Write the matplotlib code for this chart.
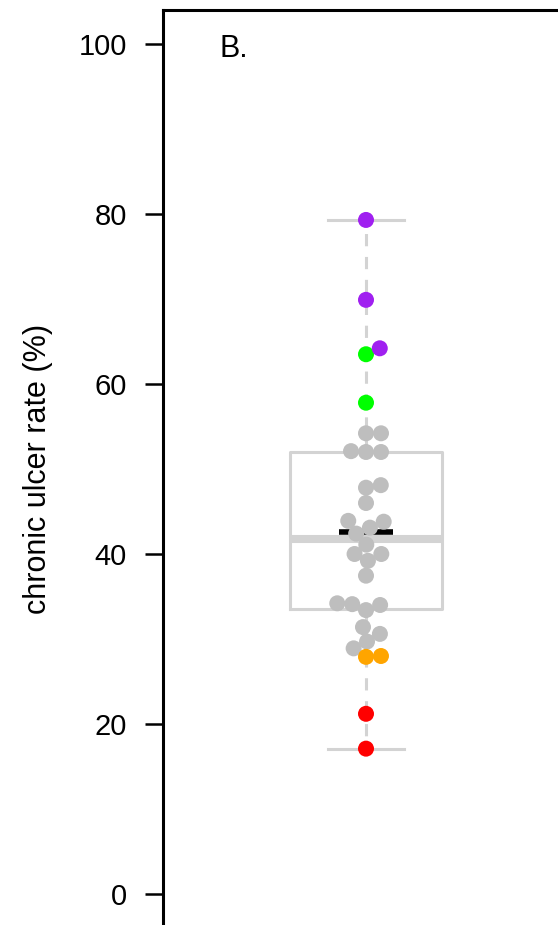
import numpy as np
import matplotlib
matplotlib.use("Agg")
import matplotlib.pyplot as plt

# ---- data ----
gray_vals = [54.2, 54.2, 52.1, 52.0, 52.0, 47.8, 48.1, 46.0, 43.9, 43.8, 43.1,
             42.4, 41.1, 40.0, 40.0, 39.2, 37.45, 34.2, 34.1, 33.4, 34.0, 31.4,
             30.6, 29.7, 28.9]
orange_vals = [27.9, 28.0]
red_vals = [21.2, 17.1]
green_vals = [63.5, 57.8]
purple_vals = [79.3, 69.9, 64.2]
mean_line = 42.6
yticks = [0, 20, 40, 60, 80, 100]
ylabel = "chronic ulcer rate (%)"
panel_label = "B."

groups = [(gray_vals, "#BEBEBE"), (orange_vals, "#FFA500"), (red_vals, "#FF0000"),
          (green_vals, "#00FF00"), (purple_vals, "#A020F0")]

W, H = 558, 925
fig = plt.figure(figsize=(W / 100, H / 100), dpi=100)
plt.rcParams['font.family'] = ['Liberation Sans', 'DejaVu Sans']

px_per_unit_x = 189.0
left_px, right_px = 163, 620
top_px, bot_px = 10, 928
ax = fig.add_axes([left_px / W, 1 - bot_px / H, (right_px - left_px) / W, (bot_px - top_px) / H])
center = 1.0
x0 = center - (366 - left_px) / px_per_unit_x
ax.set_xlim(x0, x0 + (right_px - left_px) / px_per_unit_x)
ax.set_ylim(-4, 104)
px_per_unit_y = (bot_px - top_px) / 108.0

# ---- box stats ----
allv = np.array([v for g, _ in groups for v in g])
q1, med, q3 = np.percentile(allv, [25, 50, 75])
stats = [dict(med=med, q1=q1, q3=q3, whislo=allv.min(), whishi=allv.max(), fliers=[])]
lc = "#D3D3D3"
ax.bxp(stats, positions=[center], widths=0.8, showfliers=False,
       boxprops=dict(color=lc, linewidth=2.2),
       whiskerprops=dict(color=lc, linewidth=2.2, linestyle=(0, (4, 3.5))),
       capprops=dict(color=lc, linewidth=2.2),
       medianprops=dict(color=lc, linewidth=5.8, solid_capstyle='butt'),
       capwidths=0.4, zorder=1)
ax.plot([center - 0.145, center + 0.145], [mean_line, mean_line], color="black",
        linewidth=4.0, solid_capstyle='butt', zorder=2)

# ---- beeswarm (swarm, ascending priority) ----
spacing_px = 15.0
items = []
for gi, (vals, col) in enumerate(groups):
    for v in vals:
        items.append((v, gi))
order = sorted(range(len(items)), key=lambda i: items[i][0])
ys = np.array([items[i][0] for i in range(len(items))]) * px_per_unit_y / spacing_px
offs = np.zeros(len(items))
placed = []
for k, i in enumerate(order):
    yi = ys[i]
    if placed:
        pre = [j for j in placed if yi - ys[j] < 1]
        if pre:
            pre.sort(key=lambda j: abs(offs[j]))
            cands = [0.0]
            pos = [offs[j] + np.sqrt(1 - (yi - ys[j]) ** 2) for j in pre]
            neg = [offs[j] - np.sqrt(1 - (yi - ys[j]) ** 2) for j in pre]
            cands += pos + neg
            best = None
            for c in cands:
                bad = any(((yi - ys[j]) ** 2 + (c - offs[j]) ** 2) < 0.999 for j in pre)
                if not bad and (best is None or abs(c) < abs(best)):
                    best = c
            offs[i] = best
    placed.append(i)

xs = center + offs * spacing_px / px_per_unit_x
msize = (16 * 0.72) ** 2
for gi, (vals, col) in enumerate(groups):
    idx = [i for i in range(len(items)) if items[i][1] == gi]
    ax.scatter(xs[idx], [items[i][0] for i in idx], s=msize, color=col,
               edgecolors='none', zorder=3 + gi)

# ---- axes styling ----
for s in ["right", "bottom"]:
    ax.spines[s].set_visible(False)
for s in ["left", "top"]:
    ax.spines[s].set_linewidth(2.2)
ax.set_xticks([])
ax.set_yticks(yticks)
ax.set_yticklabels([str(t) for t in yticks])
ax.tick_params(axis='y', length=13, width=1.8, pad=13, labelsize=21)

fig.text(38 / W, 1 - 469 / H, ylabel, rotation=90, ha='center', va='center', fontsize=22)
ax.text(x0 + (220 - left_px) / px_per_unit_x, 98.5, panel_label, ha='left', va='baseline',
        fontsize=22)

fig.savefig("out.png", dpi=100)
